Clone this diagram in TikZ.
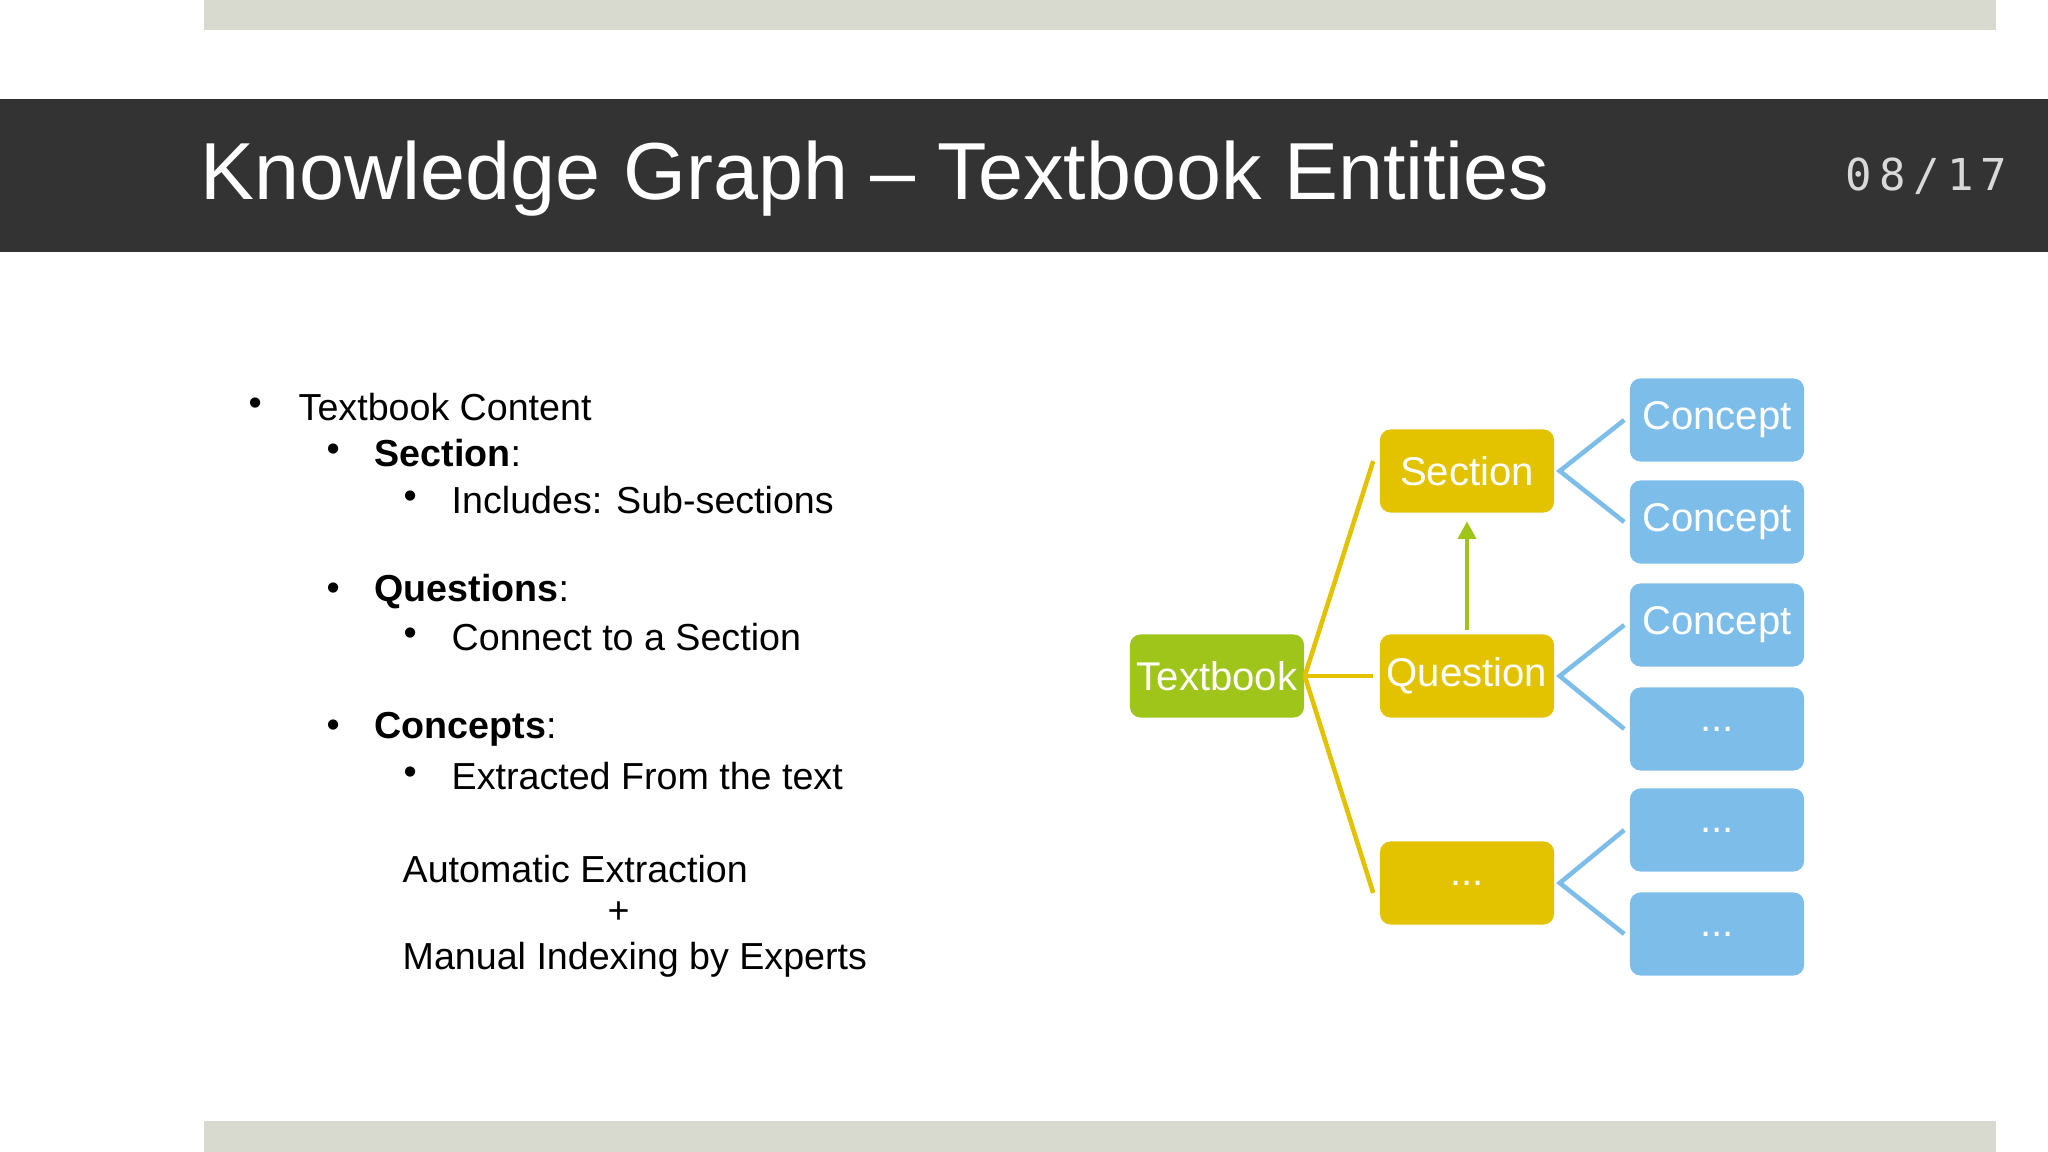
\documentclass[tikz,border=0pt]{standalone}
\usepackage{fontspec}
\setmainfont{Liberation Sans}
\newfontfamily\pgnum{DejaVu Sans Mono}
\usetikzlibrary{arrows.meta}
\definecolor{barg}{HTML}{D9DACF}
\definecolor{band}{HTML}{333333}
\definecolor{tbg}{HTML}{9FC41A}
\definecolor{yel}{HTML}{E3C200}
\definecolor{blu}{HTML}{7DBDEA}
\tikzset{
 box/.style={rounded corners=3pt,minimum width=1.74cm,minimum height=0.83cm,inner sep=0pt,text=white,font=\fontsize{11.4}{13}\selectfont},
 ybox/.style={box,fill=yel},
 cbox/.style={box,fill=blu},
 gbox/.style={box,fill=tbg},
 yline/.style={draw=yel,line width=1.3pt},
 bline/.style={draw=blu,line width=1.3pt},
 txt/.style={anchor=west,inner sep=0pt,font=\fontsize{10.7}{12}\selectfont},
}
\begin{document}
\begin{tikzpicture}[x=0.01cm,y=-0.01cm]
\useasboundingbox (0,0) rectangle (2048,1152);
\fill[barg] (204,0) rectangle (1996,30);
\fill[barg] (204,1121) rectangle (1996,1152);
\fill[band] (0,99) rectangle (2048,252);
\node[anchor=west,inner sep=0pt,text=white,font=\fontsize{23}{26}\selectfont] (title) at (200,179) {Knowledge Graph – Textbook Entities};
\node[anchor=east,inner sep=0pt,text=white!85!black,font=\pgnum\fontsize{12.5}{14}\selectfont] (pg) at (2008,176) {0\,8\,/\,1\,7};
% bullets
\node[txt] (b1) at (248,407) {•};
\node[txt] (t1) at (298,407) {Textbook Content};
\node[txt] (b2) at (326,453) {•};
\node[txt] (t2) at (374,453) {\textbf{Section}:};
\node[txt] (b3) at (403,500) {•};
\node[txt] (t3) at (451,500) {Includes: Sub-sections};
\node[txt] (b4) at (326,592) {•};
\node[txt] (t4) at (374,592) {\textbf{Questions}:};
\node[txt] (b5) at (403,637) {•};
\node[txt] (t5) at (451,637) {Connect to a Section};
\node[txt] (b6) at (326,729) {•};
\node[txt] (t6) at (374,729) {\textbf{Concepts}:};
\node[txt] (b7) at (403,776) {•};
\node[txt] (t7) at (451,776) {Extracted From the text};
\node[txt] (t8) at (402,869) {Automatic Extraction};
\node[txt] (t9) at (607,913) {+};
\node[txt] (t10) at (402,960) {Manual Indexing by Experts};
% diagram
\node[gbox] (tb) at (1217,676) {Textbook};
\node[ybox] (sec) at (1467,471) {Section};
\node[ybox] (que) at (1467,676) {Question};
\node[ybox] (dd) at (1467,883) {...};
\node[cbox] (c1) at (1717,420) {Concept};
\node[cbox] (c2) at (1717,522) {Concept};
\node[cbox] (c3) at (1717,625) {Concept};
\node[cbox] (c4) at (1717,729) {...};
\node[cbox] (c5) at (1717,830) {...};
\node[cbox] (c6) at (1717,934) {...};
\draw[yline] (tb.east) -- ([xshift=-0.06cm,yshift=0.1cm]sec.west);
\draw[yline] (tb.east) -- ([xshift=-0.06cm]que.west);
\draw[yline] (tb.east) -- ([xshift=-0.06cm,yshift=-0.1cm]dd.west);
\draw[bline] ([xshift=-0.05cm]c1.west) -- ([xshift=0.05cm]sec.east) -- ([xshift=-0.05cm]c2.west);
\draw[bline] ([xshift=-0.05cm]c3.west) -- ([xshift=0.05cm]que.east) -- ([xshift=-0.05cm]c4.west);
\draw[bline] ([xshift=-0.05cm]c5.west) -- ([xshift=0.05cm]dd.east) -- ([xshift=-0.05cm]c6.west);
\draw[draw=tbg,line width=1.3pt,-{Triangle[length=5pt,width=5pt]}] ([yshift=0.04cm]que.north) -- ([yshift=-0.08cm]sec.south);
\end{tikzpicture}
\end{document}
